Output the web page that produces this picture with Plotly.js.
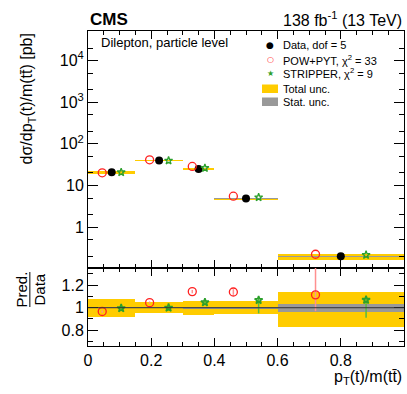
<!DOCTYPE html>
<html>
<head>
<meta charset="utf-8">
<script src="https://cdn.plot.ly/plotly-3.0.1.min.js"></script>
<style>
  body { margin: 0; background: white; }
  #plotDiv { width: 407px; height: 394px; }
</style>
</head>
<body>
<div id="plotDiv"></div>
<script>
// bins in pT(t)/m(tt)
var binLo = [0, 0.15, 0.3, 0.4, 0.6];
var binHi = [0.15, 0.3, 0.4, 0.6, 1.0];

// measured cross sections [pb] and predictions
var dataVals = [20.9, 39.7, 25.1, 4.86, 0.201];
var powVals = [20.2, 41.5, 28.7, 5.54, 0.224];
var stripVals = [20.8, 39.7, 26.3, 5.19, 0.215];

// relative uncertainties of the data
var totUp = [0.08, 0.047, 0.064, 0.056, 0.142];
var totDn = [0.08, 0.047, 0.064, 0.056, 0.175];
var statUnc = [0.005, 0.005, 0.007, 0.009, 0.034];

// prediction uncertainties in the ratio
var powErrUp = [0.01, 0.01, 0.015, 0.025, 0.35];
var powErrDn = [0.01, 0.01, 0.015, 0.025, 0.145];
var stripErrUp = [0.015, 0.025, 0.015, 0.03, 0.03];
var stripErrDn = [0.015, 0.025, 0.015, 0.118, 0.158];

var yTickVals = [1, 10, 100, 1000, 10000];
var yTickText = ['1', '10', '10<sup>2</sup>', '10<sup>3</sup>', '10<sup>4</sup>'];
var rTickVals = [0.8, 1, 1.2];
var rTickText = ['0.8', '1', '1.2'];
var xTickVals = [0, 0.2, 0.4, 0.6, 0.8];
var xTickText = ['0', '0.2', '0.4', '0.6', '0.8'];

var legendLabels = ['Data, dof = 5', 'POW+PYT, \u03c7<sup>2</sup> = 33', 'STRIPPER, \u03c7<sup>2</sup> = 9', 'Total unc.', 'Stat. unc.'];

var YELLOW = '#ffcc00';
var GRAY = '#999999';
var RED = '#ff2020';
var GREEN = '#2ca02c';

var centers = binLo.map((lo, i) => (lo + binHi[i]) / 2);
var widths = binLo.map((lo, i) => binHi[i] - lo);
var xPow = centers.map((c, i) => c - 0.2 * widths[i]);
var xStrip = centers.map((c, i) => c + 0.2 * widths[i]);
var powRatio = powVals.map((v, i) => v / dataVals[i]);
var stripRatio = stripVals.map((v, i) => v / dataVals[i]);
var ones = dataVals.map(() => 1);

var data = [];

// top panel bands
data.push({
    type: 'bar', x: centers, width: widths,
    base: dataVals.map((v, i) => v * (1 - totDn[i])),
    y: dataVals.map((v, i) => v * (totUp[i] + totDn[i])),
    marker: { color: YELLOW, line: { width: 0 } },
    xaxis: 'x', yaxis: 'y', hoverinfo: 'skip'
});
data.push({
    type: 'bar', x: centers, width: widths,
    base: dataVals.map((v, i) => v * (1 - statUnc[i])),
    y: dataVals.map((v, i) => v * 2 * statUnc[i]),
    marker: { color: GRAY, line: { width: 0 } },
    xaxis: 'x', yaxis: 'y', hoverinfo: 'skip'
});
// ratio panel bands
data.push({
    type: 'bar', x: centers, width: widths,
    base: ones.map((v, i) => v - totDn[i]),
    y: ones.map((v, i) => totUp[i] + totDn[i]),
    marker: { color: YELLOW, line: { width: 0 } },
    xaxis: 'x2', yaxis: 'y2', hoverinfo: 'skip'
});
data.push({
    type: 'bar', x: centers, width: widths,
    base: ones.map((v, i) => v - statUnc[i]),
    y: ones.map((v, i) => 2 * statUnc[i]),
    marker: { color: GRAY, line: { width: 0 } },
    xaxis: 'x2', yaxis: 'y2', hoverinfo: 'skip'
});

// top panel markers
data.push({
    type: 'scatter', mode: 'markers', x: centers, y: dataVals,
    marker: { symbol: 'circle', size: 8, color: 'black' },
    xaxis: 'x', yaxis: 'y'
});
data.push({
    type: 'scatter', mode: 'markers', x: xPow, y: powVals,
    marker: { symbol: 'circle-open', size: 8, color: RED, line: { width: 1.3 } },
    xaxis: 'x', yaxis: 'y'
});
data.push({
    type: 'scatter', mode: 'markers', x: xStrip, y: stripVals,
    marker: { symbol: 'star-open', size: 6, color: GREEN, line: { width: 1.3 } },
    xaxis: 'x', yaxis: 'y'
});

// ratio markers
data.push({
    type: 'scatter', mode: 'markers', x: xPow, y: powRatio,
    error_y: { type: 'data', symmetric: false, array: powErrUp, arrayminus: powErrDn,
               color: '#ff9090', thickness: 1.5, width: 0 },
    marker: { symbol: 'circle-open', size: 8, color: RED, line: { width: 1.3 } },
    xaxis: 'x2', yaxis: 'y2'
});
data.push({
    type: 'scatter', mode: 'markers', x: xStrip, y: stripRatio,
    error_y: { type: 'data', symmetric: false, array: stripErrUp, arrayminus: stripErrDn,
               color: '#55bb44', thickness: 1.5, width: 0 },
    marker: { symbol: 'star-open', size: 6, color: GREEN, line: { width: 1.6 } },
    xaxis: 'x2', yaxis: 'y2'
});

var split = 78 / 315;
var FONT = 'Liberation Sans, Arial, sans-serif';
var tickFont = { family: FONT, size: 16, color: 'black' };

// pixel -> paper helpers
function px(x) { return (x - 88) / 316; }
function py(y) { return (346 - y) / 315; }

var commonX = {
    range: [0, 1], showgrid: false, zeroline: false,
    showline: true, linecolor: 'black', linewidth: 1, mirror: 'allticks',
    ticks: 'inside', ticklen: 8, tickcolor: 'black',
    minor: { dtick: 0.05, ticks: 'inside', ticklen: 4, tickcolor: 'black', showgrid: false }
};

var annotations = [
    { text: '<b>CMS</b>', x: 0, y: 1, xanchor: 'left', yanchor: 'bottom', font: { size: 17 } },
    { text: '138 fb<sup>-1</sup> (13 TeV)', x: 1, y: 1, xanchor: 'right', yanchor: 'bottom', font: { size: 16 } },
    { text: 'Dilepton, particle level', x: px(99), y: py(43), xanchor: 'left', yanchor: 'middle', font: { size: 13 } },
    { text: 'd\u03c3/dp<sub>T</sub>(t)/m(tt\u0304) [pb]', x: -0.19, y: 1,
      xanchor: 'center', yanchor: 'top', textangle: -90, font: { size: 16 } },
    { text: 'p<sub>T</sub>(t)/m(tt\u0304)', x: 1, y: py(366), xanchor: 'right', yanchor: 'top', font: { size: 16 } },
    { text: 'Pred.', x: -0.212, y: py(289.5), xanchor: 'center', yanchor: 'middle', textangle: -90, font: { size: 15 } },
    { text: 'Data', x: -0.155, y: py(289.5), xanchor: 'center', yanchor: 'middle', textangle: -90, font: { size: 15 } }
];

// legend rows drawn by hand (tight spacing like the original)
var rowY = [45, 59.5, 73.5, 88.5, 102];
var glyphs = [
    { t: '\u25cf', c: 'black', s: 9 },
    { t: '\u25cb', c: RED, s: 8 },
    { t: '\u2605', c: GREEN, s: 8 }
];
legendLabels.forEach(function (lab, i) {
    annotations.push({ text: lab, x: px(281), y: py(rowY[i]), xanchor: 'left', yanchor: 'middle', font: { size: 11 } });
    if (i < 3) {
        annotations.push({ text: glyphs[i].t, x: px(270), y: py(rowY[i]), xanchor: 'center', yanchor: 'middle',
                           font: { size: glyphs[i].s, color: glyphs[i].c, family: 'DejaVu Sans' } });
    }
});
annotations.forEach(function (a) { a.xref = 'paper'; a.yref = 'paper'; a.showarrow = false; });

var layout = {
    width: 407, height: 394,
    margin: { l: 88, r: 3, t: 31, b: 48 },
    paper_bgcolor: 'white', plot_bgcolor: 'white',
    font: tickFont,
    barmode: 'overlay', bargap: 0,
    showlegend: false,
    xaxis: Object.assign({}, commonX, { anchor: 'y', showticklabels: false, tickvals: xTickVals }),
    xaxis2: Object.assign({}, commonX, { anchor: 'y2', tickvals: xTickVals, ticktext: xTickText, tickfont: tickFont }),
    yaxis: {
        type: 'log', domain: [split, 1], range: [-0.98, 4.71], anchor: 'x',
        showgrid: false, zeroline: false, showline: true, linecolor: 'black', mirror: 'allticks',
        tickvals: yTickVals, ticktext: yTickText, ticks: 'inside', ticklen: 10, tickcolor: 'black',
        tickfont: tickFont,
        minor: { ticks: 'inside', ticklen: 5, tickcolor: 'black', showgrid: false }
    },
    yaxis2: {
        domain: [0, split], range: [0.66, 1.353], anchor: 'x2',
        showgrid: false, zeroline: false, showline: true, linecolor: 'black', mirror: 'allticks',
        tickvals: rTickVals, ticktext: rTickText, ticks: 'inside', ticklen: 10, tickcolor: 'black',
        tickfont: tickFont,
        minor: { dtick: 0.1, ticks: 'inside', ticklen: 5, tickcolor: 'black', showgrid: false }
    },
    shapes: [
        { type: 'line', xref: 'paper', yref: 'y2', x0: 0, x1: 1, y0: 1, y1: 1, line: { color: '#333333', width: 1 } },
        { type: 'line', xref: 'paper', yref: 'paper', x0: -0.184, x1: -0.184, y0: py(272), y1: py(307),
          line: { color: 'black', width: 1 } },
        // legend boxes
        { type: 'rect', xref: 'paper', yref: 'paper', x0: px(262), x1: px(278), y0: py(84.5), y1: py(93),
          fillcolor: YELLOW, line: { width: 0 } },
        { type: 'rect', xref: 'paper', yref: 'paper', x0: px(262), x1: px(278), y0: py(97.5), y1: py(106),
          fillcolor: GRAY, line: { width: 0 } }
    ],
    annotations: annotations
};

Plotly.newPlot('plotDiv', data, layout, { displayModeBar: false, staticPlot: true });
</script>
</body>
</html>
